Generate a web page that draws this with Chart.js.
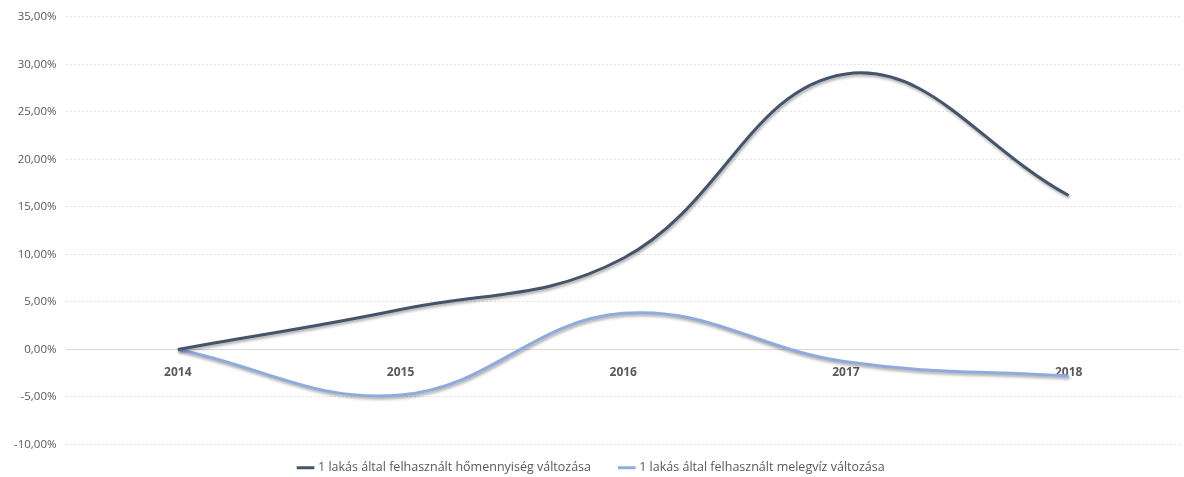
<!DOCTYPE html>
<html>
<head>
<meta charset="utf-8">
<script src="https://cdn.jsdelivr.net/npm/chart.js@4"></script>
<style>
  html, body { margin: 0; padding: 0; background: #fff; }
  #wrap { width: 1184px; height: 477px; }
</style>
</head>
<body>
<div id="wrap"><canvas id="chart" width="1184" height="477"></canvas></div>
<script>
// data
var years = ['2014', '2015', '2016', '2017', '2018'];
var heatChange = [0, 4.2, 9.6, 29.0, 16.2];
var hotWaterChange = [0, -4.8, 3.8, -1.3, -2.8];
var seriesNames = [
  '1 lakás által felhasznált hőmennyiség változása',
  '1 lakás által felhasznált melegvíz változása'
];

// soft drop shadow under the lines, like the excel original
var shadowPlugin = {
  id: 'lineShadow',
  beforeDatasetDraw: function (chart) {
    var ctx = chart.ctx;
    ctx.save();
    ctx.shadowColor = 'rgba(0,0,0,0.35)';
    ctx.shadowBlur = 3;
    ctx.shadowOffsetX = 1;
    ctx.shadowOffsetY = 2;
  },
  afterDatasetDraw: function (chart) {
    chart.ctx.restore();
  }
};

// push the legend a bit lower without shrinking the plot
var legendNudge = {
  id: 'legendNudge',
  afterLayout: function (chart) {
    chart.legend.top += 7;
    chart.legend.bottom += 7;
  }
};

var font = "'Open Sans', 'Liberation Sans', sans-serif";

new Chart(document.getElementById('chart'), {
  type: 'line',
  data: {
    labels: years,
    datasets: [
      {
        label: seriesNames[0],
        data: heatChange,
        borderColor: '#44546A',
        backgroundColor: '#44546A',
        borderWidth: 3,
        tension: 0.4,
        pointRadius: 0
      },
      {
        label: seriesNames[1],
        data: hotWaterChange,
        borderColor: '#8FAADC',
        backgroundColor: '#8FAADC',
        borderWidth: 3,
        tension: 0.4,
        pointRadius: 0
      }
    ]
  },
  options: {
    responsive: false,
    animation: false,
    layout: { padding: { left: 4, right: 4, top: 12, bottom: 0 } },
    plugins: {
      tooltip: { enabled: false },
      legend: {
        position: 'bottom',
        labels: {
          usePointStyle: true,
          pointStyle: 'line',
          boxWidth: 22,
          padding: 10,
          color: '#595959',
          font: { family: font, size: 12.5 },
          generateLabels: function (chart) {
            var items = Chart.defaults.plugins.legend.labels.generateLabels(chart);
            // wider gap between the two entries
            items[0].text = items[0].text + '      ';
            return items;
          }
        }
      }
    },
    scales: {
      x: {
        position: { y: 0 },
        offset: true,
        grid: { display: false },
        border: { display: false },
        ticks: {
          padding: 8,
          color: '#595959',
          font: { family: font, size: 12, weight: 'bold' }
        }
      },
      y: {
        min: -10,
        max: 35,
        ticks: {
          stepSize: 5,
          padding: 10,
          color: '#595959',
          font: { family: font, size: 11.5 },
          callback: function (v) { return v.toFixed(2).replace('.', ',') + '%'; }
        },
        grid: {
          drawTicks: false,
          color: function (c) { return c.tick && c.tick.value === 0 ? '#D9D9D9' : '#E3E3E3'; },
          lineWidth: 1
        },
        border: {
          display: false,
          dash: function (c) { return c.tick && c.tick.value === 0 ? [] : [2, 2]; }
        }
      }
    }
  },
  plugins: [shadowPlugin, legendNudge]
});
</script>
</body>
</html>
